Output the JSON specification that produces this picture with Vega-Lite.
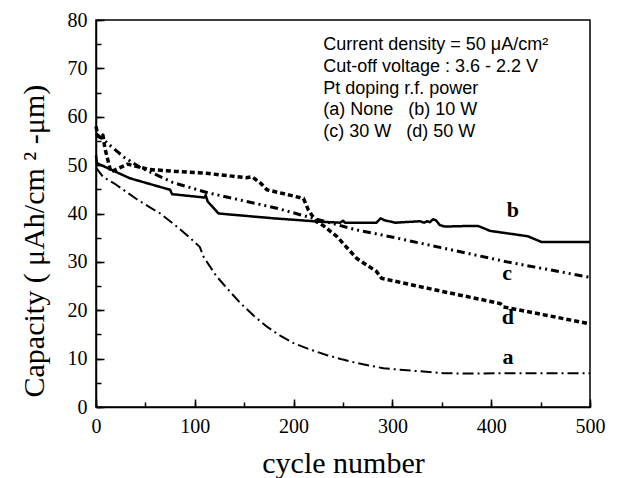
{
  "$schema": "https://vega.github.io/schema/vega-lite/v6.json",
  "autosize": {"type": "none"},
  "padding": {"left": 96, "top": 20, "right": 28, "bottom": 71},
  "width": 494,
  "height": 387,
  "background": "white",
  "config": {
    "view": {"stroke": "black", "strokeWidth": 1.5},
    "axis": {
      "grid": false,
      "domainColor": "black",
      "domainWidth": 1.5,
      "tickColor": "black",
      "tickWidth": 1.5,
      "labelFont": "Liberation Serif",
      "labelFontSize": 20,
      "labelColor": "black",
      "titleFont": "Liberation Serif",
      "titleFontWeight": "normal",
      "titleColor": "black"
    }
  },
  "datasets": {
    "curves": [
      {"series": "a", "cycle": 0, "cap": 49.5},
      {"series": "a", "cycle": 7, "cap": 47.6},
      {"series": "a", "cycle": 20, "cap": 46.0},
      {"series": "a", "cycle": 41, "cap": 43.0},
      {"series": "a", "cycle": 55, "cap": 41.2},
      {"series": "a", "cycle": 65, "cap": 40.0},
      {"series": "a", "cycle": 80, "cap": 37.6},
      {"series": "a", "cycle": 95, "cap": 35.0},
      {"series": "a", "cycle": 105, "cap": 33.1},
      {"series": "a", "cycle": 109, "cap": 31.0},
      {"series": "a", "cycle": 122, "cap": 27.0},
      {"series": "a", "cycle": 135, "cap": 24.0},
      {"series": "a", "cycle": 146, "cap": 21.5},
      {"series": "a", "cycle": 160, "cap": 18.8},
      {"series": "a", "cycle": 173, "cap": 16.6},
      {"series": "a", "cycle": 186, "cap": 14.8},
      {"series": "a", "cycle": 200, "cap": 13.2},
      {"series": "a", "cycle": 215, "cap": 12.0},
      {"series": "a", "cycle": 234, "cap": 10.7},
      {"series": "a", "cycle": 250, "cap": 9.8},
      {"series": "a", "cycle": 264, "cap": 9.1},
      {"series": "a", "cycle": 291, "cap": 8.0},
      {"series": "a", "cycle": 320, "cap": 7.5},
      {"series": "a", "cycle": 352, "cap": 7.0},
      {"series": "a", "cycle": 375, "cap": 6.9},
      {"series": "a", "cycle": 420, "cap": 7.0},
      {"series": "a", "cycle": 500, "cap": 7.0},
      {"series": "b", "cycle": 0, "cap": 52.0},
      {"series": "b", "cycle": 1, "cap": 50.4},
      {"series": "b", "cycle": 34, "cap": 47.3},
      {"series": "b", "cycle": 75, "cap": 44.9},
      {"series": "b", "cycle": 77, "cap": 44.0},
      {"series": "b", "cycle": 110, "cap": 43.3},
      {"series": "b", "cycle": 111, "cap": 43.8},
      {"series": "b", "cycle": 113, "cap": 42.5},
      {"series": "b", "cycle": 116, "cap": 41.8},
      {"series": "b", "cycle": 124, "cap": 40.0},
      {"series": "b", "cycle": 180, "cap": 39.0},
      {"series": "b", "cycle": 227, "cap": 38.3},
      {"series": "b", "cycle": 247, "cap": 38.1},
      {"series": "b", "cycle": 250, "cap": 38.5},
      {"series": "b", "cycle": 252, "cap": 38.1},
      {"series": "b", "cycle": 284, "cap": 38.1},
      {"series": "b", "cycle": 288, "cap": 39.0},
      {"series": "b", "cycle": 292, "cap": 38.6},
      {"series": "b", "cycle": 303, "cap": 38.1},
      {"series": "b", "cycle": 328, "cap": 38.4},
      {"series": "b", "cycle": 332, "cap": 38.1},
      {"series": "b", "cycle": 335, "cap": 38.4},
      {"series": "b", "cycle": 338, "cap": 38.2},
      {"series": "b", "cycle": 341, "cap": 38.8},
      {"series": "b", "cycle": 344, "cap": 38.6},
      {"series": "b", "cycle": 348, "cap": 37.6},
      {"series": "b", "cycle": 353, "cap": 37.3},
      {"series": "b", "cycle": 372, "cap": 37.4},
      {"series": "b", "cycle": 387, "cap": 37.4},
      {"series": "b", "cycle": 399, "cap": 36.4},
      {"series": "b", "cycle": 437, "cap": 35.3},
      {"series": "b", "cycle": 451, "cap": 34.1},
      {"series": "b", "cycle": 500, "cap": 34.1},
      {"series": "c", "cycle": 0, "cap": 56.5},
      {"series": "c", "cycle": 10, "cap": 54.8},
      {"series": "c", "cycle": 28, "cap": 51.7},
      {"series": "c", "cycle": 44, "cap": 49.6},
      {"series": "c", "cycle": 78, "cap": 46.4},
      {"series": "c", "cycle": 113, "cap": 44.3},
      {"series": "c", "cycle": 150, "cap": 42.6},
      {"series": "c", "cycle": 183, "cap": 41.1},
      {"series": "c", "cycle": 227, "cap": 38.6},
      {"series": "c", "cycle": 264, "cap": 36.6},
      {"series": "c", "cycle": 298, "cap": 35.2},
      {"series": "c", "cycle": 348, "cap": 33.0},
      {"series": "c", "cycle": 416, "cap": 30.0},
      {"series": "c", "cycle": 500, "cap": 26.8},
      {"series": "d", "cycle": 0, "cap": 58.0},
      {"series": "d", "cycle": 2, "cap": 56.0},
      {"series": "d", "cycle": 5, "cap": 55.6},
      {"series": "d", "cycle": 7, "cap": 56.2},
      {"series": "d", "cycle": 9, "cap": 53.5},
      {"series": "d", "cycle": 15, "cap": 48.6},
      {"series": "d", "cycle": 32, "cap": 50.2},
      {"series": "d", "cycle": 54, "cap": 49.1},
      {"series": "d", "cycle": 81, "cap": 48.7},
      {"series": "d", "cycle": 112, "cap": 48.3},
      {"series": "d", "cycle": 152, "cap": 47.4},
      {"series": "d", "cycle": 158, "cap": 47.6},
      {"series": "d", "cycle": 167, "cap": 46.2},
      {"series": "d", "cycle": 173, "cap": 44.9},
      {"series": "d", "cycle": 196, "cap": 43.8},
      {"series": "d", "cycle": 210, "cap": 43.1},
      {"series": "d", "cycle": 215, "cap": 40.7},
      {"series": "d", "cycle": 223, "cap": 38.3},
      {"series": "d", "cycle": 230, "cap": 37.5},
      {"series": "d", "cycle": 244, "cap": 35.2},
      {"series": "d", "cycle": 264, "cap": 30.7},
      {"series": "d", "cycle": 284, "cap": 28.0},
      {"series": "d", "cycle": 289, "cap": 26.6},
      {"series": "d", "cycle": 348, "cap": 24.0},
      {"series": "d", "cycle": 409, "cap": 21.4},
      {"series": "d", "cycle": 412, "cap": 20.7},
      {"series": "d", "cycle": 500, "cap": 17.2}
    ],
    "letters": [
      {"cycle": 417, "cap": 10.4, "label": "a"},
      {"cycle": 422, "cap": 40.7, "label": "b"},
      {"cycle": 416, "cap": 27.6, "label": "c"},
      {"cycle": 417, "cap": 18.7, "label": "d"}
    ],
    "notes": [
      {"cycle": 230, "cap": 73.8, "label": "Current density = 50 μA/cm²"},
      {"cycle": 230, "cap": 69.3, "label": "Cut-off voltage : 3.6 - 2.2 V"},
      {"cycle": 230, "cap": 64.8, "label": "Pt doping r.f. power"},
      {"cycle": 230, "cap": 60.3, "label": "(a) None\u00a0\u00a0 (b) 10 W"},
      {"cycle": 230, "cap": 55.9, "label": "(c) 30 W\u00a0\u00a0 (d) 50 W"}
    ]
  },
  "resolve": {"axis": {"x": "independent", "y": "independent"}},
  "layer": [
    {
      "data": {"name": "curves"},
      "mark": {"type": "line", "color": "black", "strokeCap": "butt", "strokeJoin": "round"},
      "encoding": {
        "x": {
          "field": "cycle", "type": "quantitative",
          "scale": {"domain": [0, 500], "nice": false},
          "axis": {"orient": "bottom", "values": [0, 100, 200, 300, 400, 500], "tickSize": -8, "labelPadding": 17, "title": "cycle number", "titleFontSize": 30, "titleX": 247, "titleY": 65, "titleBaseline": "alphabetic", "titleAlign": "center", "labelFlush": false}
        },
        "y": {
          "field": "cap", "type": "quantitative",
          "scale": {"domain": [0, 80], "nice": false},
          "axis": {"orient": "left", "values": [0, 10, 20, 30, 40, 50, 60, 70, 80], "tickSize": -8, "labelPadding": 17, "title": "Capacity ( μAh/cm ² -μm)", "titleFontSize": 30, "titleAngle": 270, "titleAlign": "left", "titleBaseline": "alphabetic", "titleX": -53, "titleY": 377}
        },
        "detail": {"field": "series"},
        "strokeDash": {
          "field": "series", "type": "nominal",
          "scale": {"domain": ["a", "b", "c", "d"], "range": [[11, 4, 2, 4], [1, 0], [8, 4, 2, 4, 2, 4], [5, 3]]},
          "legend": null
        },
        "strokeWidth": {
          "field": "series", "type": "nominal",
          "scale": {"domain": ["a", "b", "c", "d"], "range": [2, 3.5, 2, 1.8]},
          "legend": null
        }
      }
    },
    {
      "data": {"name": "letters"},
      "mark": {"type": "text", "font": "Liberation Serif", "fontWeight": "bold", "fontSize": 22, "color": "black", "baseline": "middle", "align": "center"},
      "encoding": {
        "x": {"field": "cycle", "type": "quantitative", "axis": {"orient": "bottom", "values": [0, 50, 100, 150, 200, 250, 300, 350, 400, 450, 500], "tickSize": -5, "labels": false, "domain": false, "title": null}},
        "y": {"field": "cap", "type": "quantitative", "axis": {"orient": "left", "values": [0, 5, 10, 15, 20, 25, 30, 35, 40, 45, 50, 55, 60, 65, 70, 75, 80], "tickSize": -5, "labels": false, "domain": false, "title": null}},
        "text": {"field": "label"}
      }
    },
    {
      "data": {"name": "notes"},
      "mark": {"type": "text", "font": "Liberation Sans", "fontSize": 18, "color": "black", "baseline": "alphabetic", "align": "left"},
      "encoding": {
        "x": {"field": "cycle", "type": "quantitative", "axis": null},
        "y": {"field": "cap", "type": "quantitative", "axis": null},
        "text": {"field": "label"}
      }
    }
  ]
}
